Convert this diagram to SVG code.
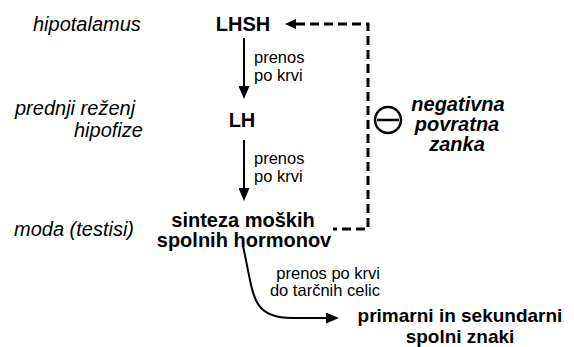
<svg xmlns="http://www.w3.org/2000/svg" width="574" height="347" viewBox="0 0 574 347">
<style>
text{font-family:"Liberation Sans",Arial,sans-serif;fill:#000}
.lbl{font-size:20px;font-style:italic}
.node{font-size:20px;font-weight:bold;text-anchor:middle}
.node2{font-size:19px;font-weight:bold;text-anchor:middle}
.sm{font-size:16.5px}
.neg{font-size:20px;font-weight:bold;font-style:italic;text-anchor:middle}
.ln{fill:none;stroke:#000;stroke-width:2}
.dash{fill:none;stroke:#000;stroke-width:3;stroke-dasharray:9 5}
</style>
<defs>
<marker id="ah" viewBox="0 0 13 11" refX="7" refY="5.5" markerWidth="13" markerHeight="11" markerUnits="userSpaceOnUse" orient="auto"><path d="M0,0 L13,5.5 L0,11 z" fill="#000"/></marker>
<marker id="ahs" viewBox="0 0 11 10" refX="0" refY="5" markerWidth="11" markerHeight="10" markerUnits="userSpaceOnUse" orient="auto-start-reverse"><path d="M0,0 L11,5 L0,10 z" fill="#000"/></marker>
</defs>
<g id="labels">
<text class="lbl" x="33" y="31">hipotalamus</text>
<text class="lbl"><tspan x="15" y="115">prednji reženj</tspan><tspan x="74" y="137">hipofize</tspan></text>
<text class="lbl" x="14" y="236">moda (testisi)</text>
</g>
<g id="lhsh"><text class="node" x="243" y="31">LHSH</text></g>
<g id="lh"><text class="node" x="242" y="127">LH</text></g>
<g id="sinteza"><text class="node"><tspan x="243" y="227">sinteza moških</tspan><tspan x="244" y="247">spolnih hormonov</tspan></text></g>
<g id="znaki"><text class="node2"><tspan x="460" y="322">primarni in sekundarni</tspan><tspan x="460" y="343">spolni znaki</tspan></text></g>
<g id="feedback">
<circle cx="388" cy="120" r="13" fill="none" stroke="#000" stroke-width="2.5"/>
<line x1="377" y1="120" x2="399" y2="120" stroke="#000" stroke-width="2.5"/>
<text class="neg"><tspan x="458" y="111">negativna</tspan><tspan x="457" y="131">povratna</tspan><tspan x="457" y="151">zanka</tspan></text>
</g>
<g id="connectors">
<path class="ln" d="M243,246 C254,294 250,318 292,318 L333,318" marker-end="url(#ah)"/>
<path class="ln" d="M244,38 L244,93" marker-end="url(#ah)"/>
<path class="ln" d="M244,140 L244,195" marker-end="url(#ah)"/>
<path class="dash" d="M296,24 L368,24 L368,229 L333,229" marker-start="url(#ahs)"/>
<text class="sm"><tspan x="254" y="63">prenos</tspan><tspan x="254" y="81">po krvi</tspan></text>
<text class="sm"><tspan x="254" y="164">prenos</tspan><tspan x="254" y="182">po krvi</tspan></text>
<text class="sm" text-anchor="end"><tspan x="380" y="279">prenos po krvi</tspan><tspan x="380" y="296">do tarčnih celic</tspan></text>
</g>
</svg>
